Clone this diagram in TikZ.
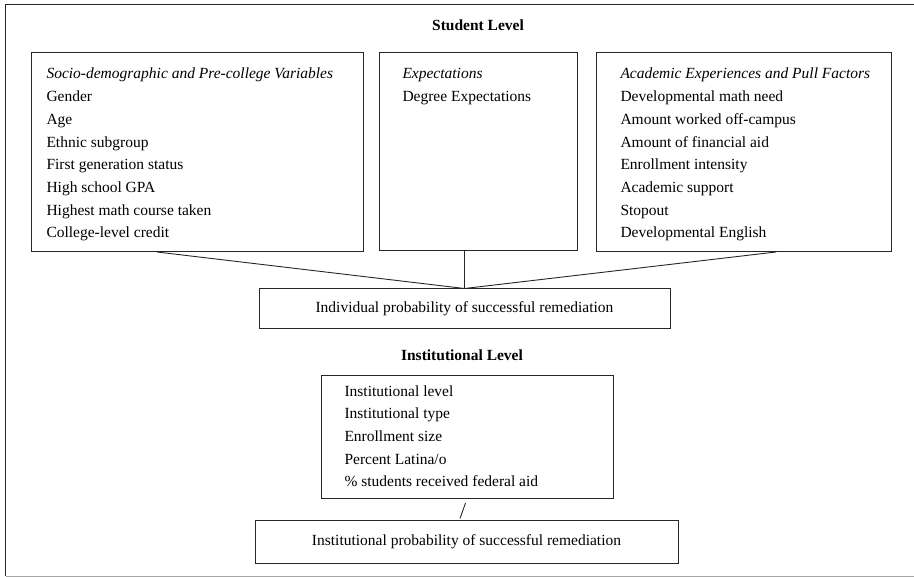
\documentclass[tikz,border=0pt]{standalone}
\usepackage{fontspec}
\setmainfont{Liberation Serif}
\newcommand\listbox[5]{\begin{minipage}[c][#2][t]{#1}\fontsize{15.5}{22.7}\selectfont\raggedright\setlength{\leftskip}{#3}\setlength{\parindent}{0pt}\rule{0pt}{#4}#5\par\end{minipage}}
\begin{document}
\begin{tikzpicture}[x=1pt,y=-1pt,
  framebox/.style={draw=black!85,line width=1pt,inner sep=0pt,anchor=north west},
  resultbox/.style={draw=black!85,line width=1pt,inner sep=0pt,font=\fontsize{15.5}{18}\selectfont},
  title/.style={font=\fontsize{15.5}{18}\selectfont\bfseries,inner sep=0pt},
  link/.style={draw=black!85,line width=0.9pt}]
\useasboundingbox (0,0) rectangle (914,577);
% outer frame
\draw[line width=1.2pt,black!85] (914,4.5) -- (5.5,4.5) -- (5.5,576);
\draw[line width=1pt,black!35] (5.5,576) -- (914,576);

\node[title] (stu) at (478,25) {Student Level};

\node[framebox] (b1) at (31,52) {\listbox{332pt}{199pt}{15pt}{26.5pt}{%
\textit{Socio-demographic and Pre-college Variables}\\
Gender\\
Age\\
Ethnic subgroup\\
First generation status\\
High school GPA\\
Highest math course taken\\
College-level credit}};

\node[framebox] (b2) at (379,52) {\listbox{198pt}{198pt}{23pt}{26.5pt}{%
\textit{Expectations}\\
Degree Expectations}};

\node[framebox] (b3) at (596,52) {\listbox{295pt}{199pt}{24pt}{26.5pt}{%
\textit{Academic Experiences and Pull Factors}\\
Developmental math need\\
Amount worked off-campus\\
Amount of financial aid\\
Enrollment intensity\\
Academic support\\
Stopout\\
Developmental English}};

\node[resultbox,minimum width=411pt,minimum height=40pt] (ind) at (464.5,309) {Individual probability of successful remediation};

\draw[link] ([xshift=126pt]b1.south west) -- (ind.north);
\draw[link] (b2.south -| ind.north) -- (ind.north);
\draw[link] ([xshift=180pt]b3.south west) -- (ind.north);

\node[title] (inl) at (462,355) {Institutional Level};

\node[framebox] (inst) at (321,375) {\listbox{292pt}{123pt}{23pt}{20.5pt}{%
Institutional level\\
Institutional type\\
Enrollment size\\
Percent Latina/o\\
\% students received federal aid}};

\node[resultbox,minimum width=423pt,minimum height=43pt] (fin) at (466.5,541.5) {Institutional probability of successful remediation};

\draw[link] ([xshift=-2pt,yshift=-4pt]inst.south) -- ([xshift=-6.5pt,yshift=1pt]fin.north);
\end{tikzpicture}
\end{document}
